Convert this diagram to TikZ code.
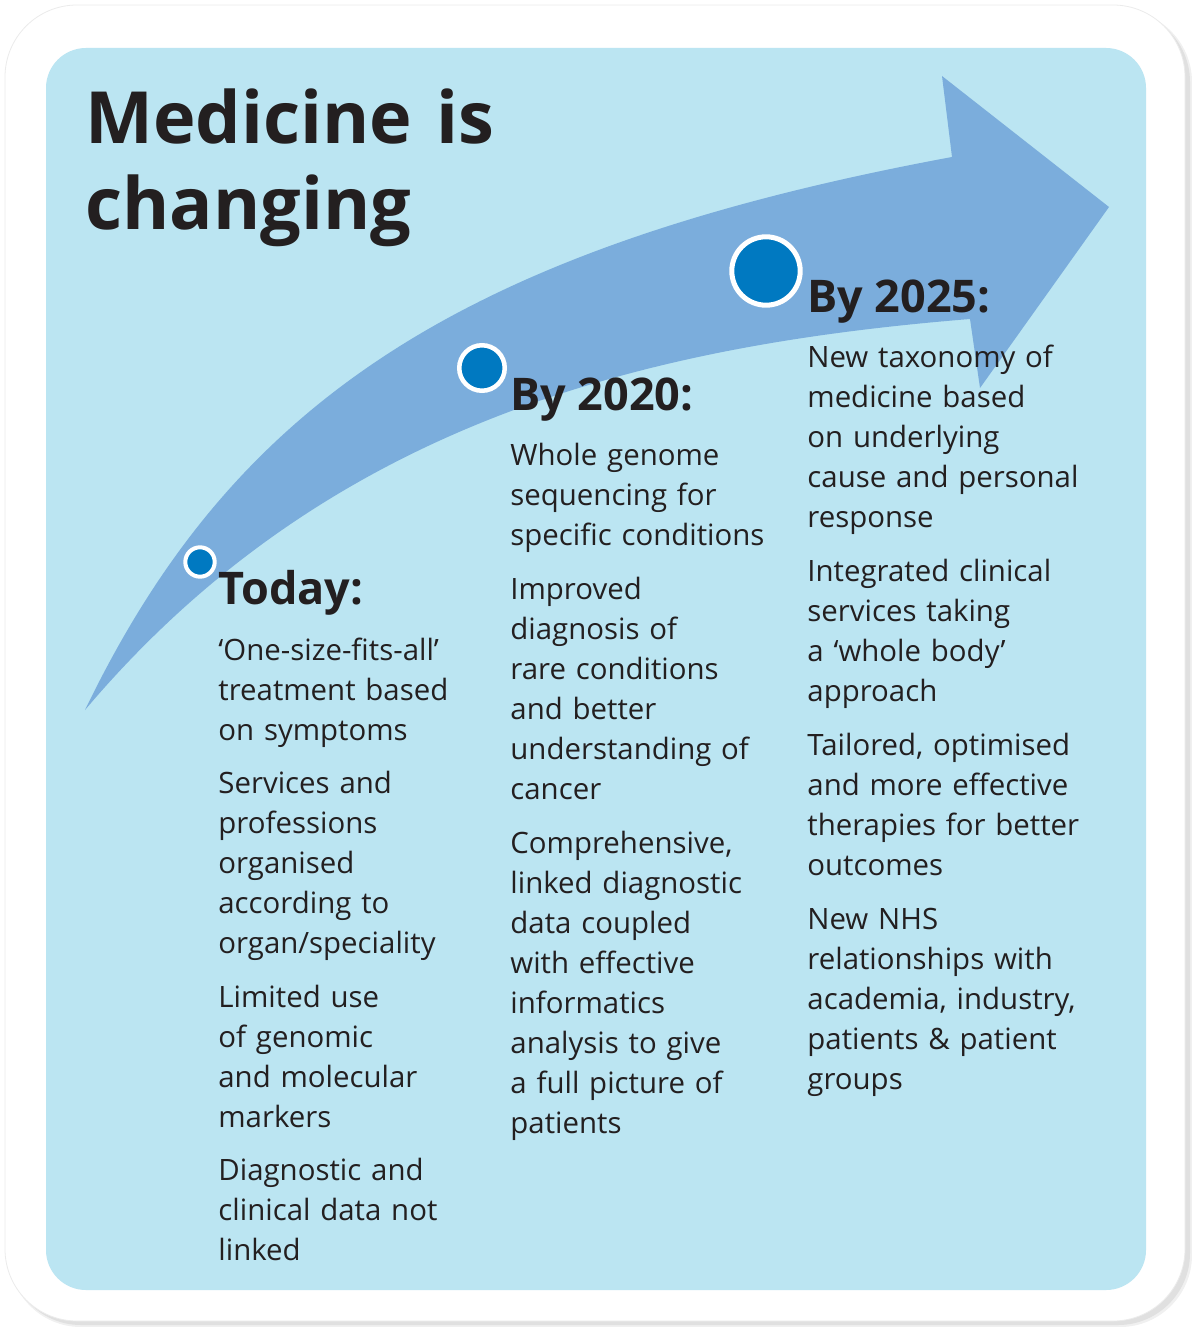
\documentclass[tikz,border=0pt]{standalone}
\usepackage{fontspec}
\setmainfont{Open Sans}
\usepackage{tikz}
\usepackage{xcolor}
\definecolor{panelblue}{HTML}{BBE5F2}
\definecolor{arrowblue}{HTML}{7BADDC}
\definecolor{dotblue}{HTML}{0079C1}
\definecolor{inkgray}{HTML}{231F20}

\begin{document}
\begin{tikzpicture}[x=0.5pt,y=-0.5pt,
	dot/.style={circle, fill=dotblue, draw=white, inner sep=0pt},
	head/.style={anchor=base west, inner sep=0pt, text=inkgray, font=\fontsize{22.5}{27}\selectfont\bfseries},
	item/.style={anchor=base west, inner sep=0pt, text=inkgray, text width=150pt, align=left, font=\fontsize{14.7}{20}\selectfont}]
	\useasboundingbox (0,0) rectangle (1192,1327);
	% outer card with its shadow
	\fill[black!6, rounded corners=36pt] (9,10) rectangle (1192,1327);
	\fill[black!12, rounded corners=36pt] (9,10) rectangle (1190,1325);
	\filldraw[fill=white, draw=black!8, rounded corners=36pt] (5,5) rectangle (1185,1321);
	\fill[panelblue, rounded corners=20pt] (46,48) rectangle (1146,1290);
	% curved arrow
	\fill[arrowblue] (85,710) .. controls (230,410) and (450,250) .. (952,157) -- (942,76) -- (1109,207) -- (980,388) -- (970,319) .. controls (650,345) and (330,420) .. (85,710) -- cycle;
	\node[anchor=base west, inner sep=0pt, text width=250pt, align=left, text=inkgray, font=\fontsize{36}{43.5}\selectfont\bfseries] (title) at (85,143) {Medicine is\\changing};
	% milestones
	\node[dot, minimum size=14.7pt, line width=2pt] (today) at (200,562) {};
	\node[dot, minimum size=22.75pt, line width=2.25pt] (y2020) at (482,368) {};
	\node[dot, minimum size=34.2pt, line width=2.5pt] (y2025) at (766,271) {};
	% today
	\node[head] (todayhead) at (218,604) {Today:};
	\node[item] (today1) at (218,660) {‘One-size-fits-all’\\treatment based\\on symptoms};
	\node[item] (today2) at (218,793) {Services and\\professions\\organised\\according to\\organ/speciality};
	\node[item] (today3) at (218,1007) {Limited use\\of genomic\\and molecular\\markers};
	\node[item] (today4) at (218,1180) {Diagnostic and\\clinical data not\\linked};
	% by 2020
	\node[head] (head2020) at (510,410) {By 2020:};
	\node[item] (item2020a) at (510,465) {Whole genome\\sequencing for\\specific conditions};
	\node[item] (item2020b) at (510,599) {Improved\\diagnosis of\\rare conditions\\and better\\understanding of\\cancer};
	\node[item] (item2020c) at (510,853) {Comprehensive,\\linked diagnostic\\data coupled\\with effective\\informatics\\analysis to give\\a full picture of\\patients};
	% by 2025
	\node[head] (head2025) at (807,312) {By 2025:};
	\node[item] (item2025a) at (807,367) {New taxonomy of\\medicine based\\on underlying\\cause and personal\\response};
	\node[item] (item2025b) at (807,581) {Integrated clinical\\services taking\\a ‘whole body’\\approach};
	\node[item] (item2025c) at (807,755) {Tailored, optimised\\and more effective\\therapies for better\\outcomes};
	\node[item] (item2025d) at (807,929) {New NHS\\relationships with\\academia, industry,\\patients \& patient\\groups};
\end{tikzpicture}
\end{document}
